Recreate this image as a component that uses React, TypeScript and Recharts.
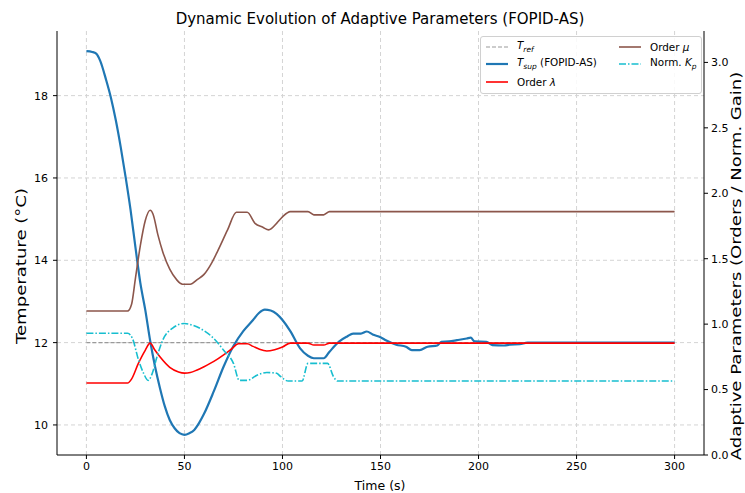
import React from "react"
import { ComposedChart, Line, XAxis, YAxis, CartesianGrid } from "recharts"

// supply air temperature (°C)
const supplyTime = [
  0, 3, 5, 7, 10, 12.5, 15, 17.5, 20, 22.5, 25, 27.5, 30, 32.5, 35, 37.5, 40, 42.5, 45, 47.5, 50,
  52.5, 55, 57.5, 60, 65, 70, 75, 80, 85, 88, 91, 94, 97, 100, 104, 109, 113, 116, 121, 124, 129,
  133, 136, 140, 143, 146, 150, 153, 158, 163, 166, 170, 174, 179, 181, 185, 189, 194, 196, 198,
  204, 207, 213, 216, 221, 225, 240, 300,
]
const supplyTemp = [
  19.08, 19.06, 19.02, 18.85, 18.39, 17.95, 17.4, 16.75, 16.02, 15.23, 14.32, 13.45, 12.8, 12.05,
  11.42, 10.9, 10.45, 10.12, 9.92, 9.8, 9.76, 9.8, 9.88, 10.05, 10.27, 10.82, 11.42, 11.92, 12.28,
  12.55, 12.72, 12.8, 12.78, 12.7, 12.55, 12.28, 11.86, 11.68, 11.62, 11.62, 11.78, 12.03, 12.15,
  12.22, 12.22, 12.27, 12.2, 12.13, 12.05, 11.95, 11.9, 11.82, 11.82, 11.9, 11.93, 12.02, 12.03,
  12.06, 12.1, 12.12, 12.03, 12.02, 11.94, 11.93, 11.95, 11.96, 12.0, 12.0, 12.0,
]

const refTime = [0, 300]
const refTemp = [12, 12]

// fractional order lambda
const lambdaTime = [
  0, 21, 23, 26.5, 30, 32.5, 35, 37.5, 42.5, 47, 50, 53, 56.5, 60, 65, 70, 74, 77.5, 82, 85, 88,
  92, 96, 100, 104, 113, 116, 121, 124, 300,
]
const lambdaValue = [
  0.55, 0.55, 0.58, 0.7, 0.8, 0.855, 0.8, 0.75, 0.67, 0.635, 0.626, 0.63, 0.65, 0.675, 0.715, 0.765,
  0.81, 0.85, 0.85, 0.83, 0.81, 0.795, 0.805, 0.825, 0.855, 0.855, 0.84, 0.84, 0.855, 0.855,
]

// fractional order mu
const muTime = [
  0, 21, 23, 25, 27.5, 30, 32.5, 34, 36.5, 39, 42.5, 46, 49, 53, 56.5, 60, 64, 67, 72, 76.5, 82, 86,
  90, 93, 97, 100, 104, 113, 116, 121, 124, 300,
]
const muValue = [
  1.1, 1.1, 1.15, 1.35, 1.6, 1.79, 1.87, 1.84, 1.68, 1.55, 1.42, 1.34, 1.305, 1.305, 1.34, 1.38,
  1.47, 1.56, 1.72, 1.855, 1.855, 1.77, 1.74, 1.72, 1.77, 1.82, 1.86, 1.86, 1.835, 1.835, 1.86, 1.86,
]

// normalised proportional gain
const kpTime = [
  0, 21, 23.5, 26.5, 29, 31.5, 33.5, 36, 39, 44, 50, 54.5, 60, 65, 70, 75, 78, 82, 87, 92, 97, 99,
  103, 110, 113, 123, 126, 128, 300,
]
const kpValue = [
  0.93, 0.93, 0.89, 0.73, 0.63, 0.57, 0.62, 0.75, 0.88, 0.97, 1.005, 0.99, 0.95, 0.89, 0.8, 0.7,
  0.57, 0.57, 0.61, 0.63, 0.625, 0.6, 0.565, 0.565, 0.7, 0.7, 0.6, 0.565, 0.565,
]

const timeTicks = [0, 50, 100, 150, 200, 250, 300]
const tempTicks = [10, 12, 14, 16, 18]
const paramTicks = [0, 0.5, 1, 1.5, 2, 2.5, 3]

const toPoints = (ts: number[], vs: number[]) => ts.map((t, i) => ({ t, v: vs[i] }))

const FONT = "'DejaVu Sans', sans-serif"
const tickStyle = { fontSize: 11, fill: "#000", fontFamily: FONT }

const Sub = ({ base, sub }: { base: string; sub: string }) => (
  <span>
    <i>{base}</i>
    <sub style={{ fontSize: 7.5, fontStyle: "italic" }}>{sub}</sub>
  </span>
)

const legendItems = [
  { col: 0, row: 0, color: "#9a9a9a", dash: "4 2", width: 1.2, label: <Sub base="T" sub="ref" /> },
  { col: 0, row: 1, color: "#1f77b4", dash: undefined, width: 2.2, label: <span><Sub base="T" sub="sup" /> (FOPID-AS)</span> },
  { col: 0, row: 2, color: "#ff0000", dash: undefined, width: 1.6, label: <span>Order <i>λ</i></span> },
  { col: 1, row: 0, color: "#8c564b", dash: undefined, width: 1.6, label: <span>Order <i>μ</i></span> },
  { col: 1, row: 1, color: "#17becf", dash: "7 2 1.5 2", width: 1.6, label: <span>Norm. <Sub base="K" sub="p" /></span> },
]

const ChartLegend = () => (
  <div
    style={{
      position: "absolute",
      left: 480,
      top: 36,
      width: 220,
      height: 56,
      background: "rgba(255,255,255,0.85)",
      border: "1px solid #d0d0d0",
      borderRadius: 3,
      fontFamily: FONT,
      fontSize: 10.4,
    }}
  >
    {legendItems.map((it, i) => (
      <div
        key={i}
        style={{
          position: "absolute",
          left: it.col === 0 ? 5 : 138,
          top: 1 + it.row * 17.5,
          height: 17,
          display: "flex",
          alignItems: "center",
          whiteSpace: "nowrap",
        }}
      >
        <svg width={24} height={10} style={{ marginRight: 7 }}>
          <line x1={0} y1={5} x2={22} y2={5} stroke={it.color} strokeWidth={it.width} strokeDasharray={it.dash} />
        </svg>
        {it.label}
      </div>
    ))}
  </div>
)

// vertical axis titles are drawn a bit elongated along their length
const sideLabel = (x: number, y: number, stretch: number): React.CSSProperties => ({
  position: "absolute",
  left: x,
  top: y,
  transform: `translate(-50%, -50%) rotate(-90deg) scaleX(${stretch})`,
  fontFamily: FONT,
  fontSize: 13.5,
  whiteSpace: "nowrap",
})

export default function App() {
  return (
    <div style={{ position: "absolute", left: 0, top: 0, width: 745, height: 493, background: "#fff" }}>
      <ComposedChart width={745} height={493} margin={{ top: 31, right: 0, bottom: 0, left: 0 }}>
        <CartesianGrid
          xAxisId="bottom"
          yAxisId="temp"
          stroke="#d4d4d4"
          strokeDasharray="4 3"
          horizontalValues={tempTicks}
          verticalValues={timeTicks}
        />
        <XAxis
          xAxisId="bottom"
          dataKey="t"
          type="number"
          domain={[-15, 315]}
          ticks={timeTicks}
          allowDataOverflow
          height={38}
          tickSize={4}
          tickMargin={3}
          tick={tickStyle}
          axisLine={{ stroke: "#000" }}
          tickLine={{ stroke: "#000" }}
        />
        <XAxis
          xAxisId="top"
          orientation="top"
          dataKey="t"
          type="number"
          domain={[-15, 315]}
          allowDataOverflow
          height={0}
          tick={false}
          tickLine={false}
          axisLine={{ stroke: "#000" }}
        />
        <YAxis
          yAxisId="temp"
          type="number"
          domain={[9.27, 19.57]}
          ticks={tempTicks}
          allowDataOverflow
          width={57}
          tickSize={4}
          tickMargin={5}
          tick={tickStyle}
          axisLine={{ stroke: "#000" }}
          tickLine={{ stroke: "#000" }}
        />
        <YAxis
          yAxisId="param"
          orientation="right"
          type="number"
          domain={[0, 3.24]}
          ticks={paramTicks}
          tickFormatter={(v: number) => v.toFixed(1)}
          allowDataOverflow
          width={41}
          tickSize={4}
          tickMargin={3}
          tick={tickStyle}
          axisLine={{ stroke: "#000" }}
          tickLine={{ stroke: "#000" }}
        />
        <Line
          xAxisId="bottom"
          yAxisId="temp"
          data={toPoints(refTime, refTemp)}
          dataKey="v"
          type="linear"
          stroke="#9a9a9a"
          strokeWidth={1.2}
          strokeDasharray="4 2"
          dot={false}
          isAnimationActive={false}
        />
        <Line
          xAxisId="bottom"
          yAxisId="temp"
          data={toPoints(supplyTime, supplyTemp)}
          dataKey="v"
          type="monotone"
          stroke="#1f77b4"
          strokeWidth={2.2}
          dot={false}
          isAnimationActive={false}
        />
        <Line
          xAxisId="bottom"
          yAxisId="param"
          data={toPoints(lambdaTime, lambdaValue)}
          dataKey="v"
          type="monotone"
          stroke="#ff0000"
          strokeWidth={1.6}
          dot={false}
          isAnimationActive={false}
        />
        <Line
          xAxisId="bottom"
          yAxisId="param"
          data={toPoints(muTime, muValue)}
          dataKey="v"
          type="monotone"
          stroke="#8c564b"
          strokeWidth={1.6}
          dot={false}
          isAnimationActive={false}
        />
        <Line
          xAxisId="bottom"
          yAxisId="param"
          data={toPoints(kpTime, kpValue)}
          dataKey="v"
          type="monotone"
          stroke="#17becf"
          strokeWidth={1.6}
          strokeDasharray="7 2 1.5 2"
          dot={false}
          isAnimationActive={false}
        />
      </ComposedChart>

      <div
        style={{
          position: "absolute",
          left: 380,
          top: 19,
          transform: "translate(-50%, -50%)",
          fontFamily: FONT,
          fontSize: 15,
          whiteSpace: "nowrap",
        }}
      >
        Dynamic Evolution of Adaptive Parameters (FOPID-AS)
      </div>
      <div
        style={{
          position: "absolute",
          left: 380,
          top: 485,
          transform: "translate(-50%, -50%)",
          fontFamily: FONT,
          fontSize: 12.5,
          whiteSpace: "nowrap",
        }}
      >
        Time (s)
      </div>
      <div style={sideLabel(21, 266, 1.34)}>Temperature (°C)</div>
      <div style={sideLabel(736, 266, 1.335)}>Adaptive Parameters (Orders / Norm. Gain)</div>
      <ChartLegend />
    </div>
  )
}
